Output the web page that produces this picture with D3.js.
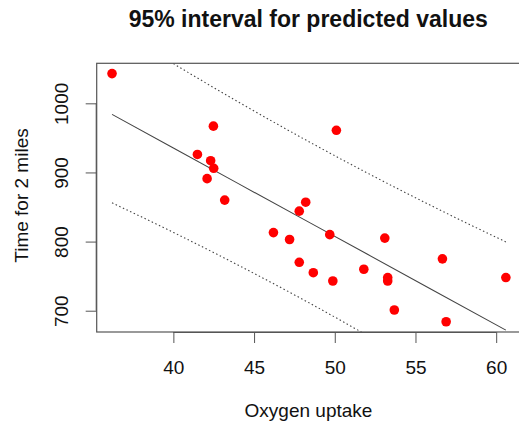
<!DOCTYPE html>
<html><head><meta charset="utf-8">
<script src="https://cdn.jsdelivr.net/npm/d3@7"></script>
<style>html,body{margin:0;padding:0;background:#fff;}svg{display:block;}</style>
</head><body>
<script>
// Data
const oxygen = [36.2, 42.48, 41.49, 42.31, 42.5, 42.09, 43.18, 48.2, 47.8, 50.1, 46.2, 47.2, 47.8, 49.69, 53.1, 48.67, 49.88, 51.8, 53.28, 53.28, 56.67, 60.6, 53.69, 56.9];
const time2mi = [1043, 967, 926, 917, 906, 891, 860, 857, 844, 961, 813, 803, 770, 810, 805, 755, 743, 760, 748, 743, 775, 748, 701, 684];
// fitted line and 95% prediction interval, read at a few x positions
const bandX = [36.2, 40, 44, 48.5, 52, 56, 60.6];
const fitY = [984.0, 935.4, 884.2, 826.7, 781.9, 730.8, 671.9];
const upperY = [1112.0, 1057.5, 1002.3, 943.2, 899.4, 851.7, 799.5];
const lowerY = [856.0, 813.3, 766.1, 710.2, 664.4, 609.9, 544.3];
const xTicks = [40, 45, 50, 55, 60];
const yTicks = [700, 800, 900, 1000];

const W = 519, H = 425;
const L = 96.7, R = 522, T = 63.3, B = 332;
const svg = d3.select("body").append("svg").attr("width", W).attr("height", H);
const x = d3.scaleLinear().domain([35.25, 61.6]).range([L, R]);
const y = d3.scaleLinear().domain([669.2, 1057.9]).range([B, T]);
const font = "'Liberation Sans', Arial, Helvetica, sans-serif";

svg.append("defs").append("clipPath").attr("id", "clip")
  .append("rect").attr("x", L).attr("y", T).attr("width", R - L).attr("height", B - T);

const line = d3.line().x(d => x(d[0])).y(d => y(d[1]));
const g = svg.append("g").attr("clip-path", "url(#clip)");
g.append("path").datum(bandX.map((v, i) => [v, fitY[i]])).attr("d", line)
  .attr("fill", "none").attr("stroke", "#444").attr("stroke-width", 1.1);
[upperY, lowerY].forEach(arr => {
  g.append("path").datum(bandX.map((v, i) => [v, arr[i]])).attr("d", d3.line().curve(d3.curveMonotoneX).x(d => x(d[0])).y(d => y(d[1])))
    .attr("fill", "none").attr("stroke", "#444").attr("stroke-width", 1.1).attr("stroke-dasharray", "1.5,2.5");
});

g.selectAll("circle").data(oxygen.map((v, i) => [v, time2mi[i]])).enter().append("circle")
  .attr("cx", d => x(d[0])).attr("cy", d => y(d[1])).attr("r", 4.8).attr("fill", "#ff0000");

// box
svg.append("rect").attr("x", L).attr("y", T).attr("width", R - L).attr("height", B - T)
  .attr("fill", "none").attr("stroke", "#555").attr("stroke-width", 1.2);

// x axis
const xa = svg.append("g").attr("transform", `translate(0,${B})`)
  .call(d3.axisBottom(x).tickValues(xTicks).tickSize(11).tickSizeOuter(0).tickPadding(18).tickFormat(d3.format("d")));
xa.select(".domain").attr("d", `M${x(40)},0.5H${x(60)}`).attr("stroke", "#555");
xa.selectAll(".tick line").attr("stroke", "#555");
xa.selectAll("text").attr("font-family", font).attr("font-size", 19).attr("fill", "#111");

// y axis
const ya = svg.append("g").attr("transform", `translate(${L},0)`)
  .call(d3.axisLeft(y).tickValues(yTicks).tickSize(11).tickSizeOuter(0).tickFormat(d3.format("d")));
ya.select(".domain").attr("d", `M-0.5,${y(700)}V${y(1000)}`).attr("stroke", "#555");
ya.selectAll(".tick line").attr("stroke", "#555");
ya.selectAll("text").attr("font-family", font).attr("font-size", 19).attr("fill", "#111")
  .attr("x", null).attr("dy", null).attr("text-anchor", "middle")
  .attr("transform", "translate(-28.5,0) rotate(-90)");

// labels
svg.append("text").attr("x", 308.5).attr("y", 417).attr("text-anchor", "middle")
  .attr("font-family", font).attr("font-size", 19).attr("fill", "#111").text("Oxygen uptake");
svg.append("text").attr("transform", `translate(28,195.5) rotate(-90)`).attr("text-anchor", "middle")
  .attr("font-family", font).attr("font-size", 19).attr("fill", "#111").text("Time for 2 miles");
svg.append("text").attr("x", 308.3).attr("y", 26.7).attr("text-anchor", "middle")
  .attr("font-family", font).attr("font-size", 23).attr("font-weight", "bold").attr("fill", "#111")
  .text("95% interval for predicted values");
</script>
</body></html>
